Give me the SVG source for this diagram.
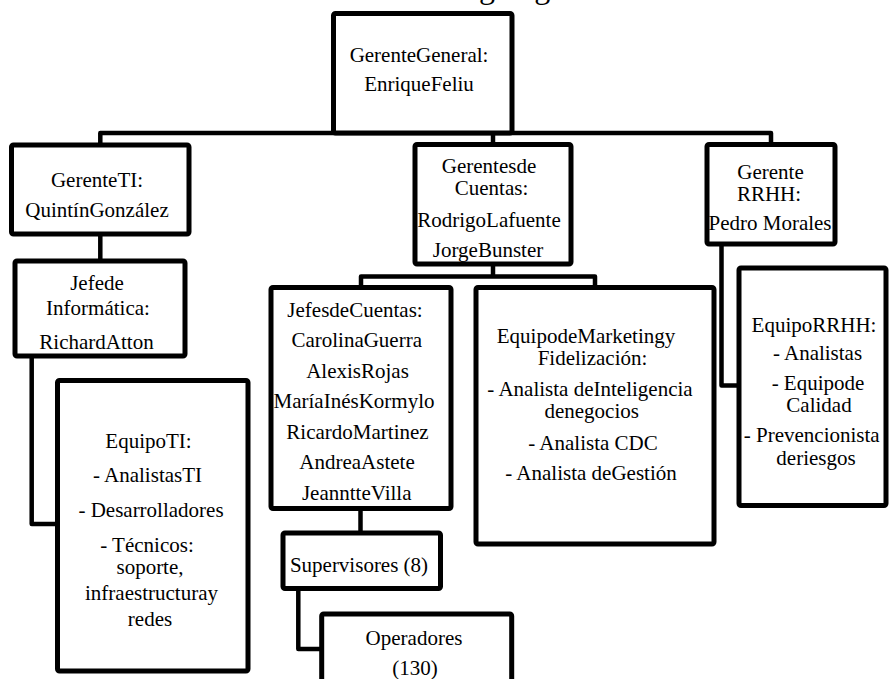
<svg xmlns="http://www.w3.org/2000/svg" width="891" height="679" viewBox="0 0 891 679">
  <style>
    .box { fill: #fff; stroke: #000; stroke-width: 5; stroke-linejoin: round; }
    .wire { fill: none; stroke: #000; stroke-width: 4.5; stroke-linejoin: round; }
    text { font-family: "Liberation Serif", "Times New Roman", serif; font-size: 21px; text-anchor: middle; fill: #000; }
    .title { font-size: 32px; }
  </style>
  <rect width="891" height="679" fill="#fff"/>

  <text class="title" x="530" y="-2">Organigrama</text>

  <!-- connectors: the top box sits directly on the main bus -->
  <g id="connectors">
    <path class="wire" d="M100.3,145 V133 H771 V144.5"/>
    <path class="wire" d="M493,133 V144.5"/>
    <path class="wire" d="M100.3,234 V261"/>
    <path class="wire" d="M31.7,356 V524 H57.5"/>
    <path class="wire" d="M493,264 V276.5"/>
    <path class="wire" d="M361,287.5 V276.5 H595 V287.5"/>
    <path class="wire" d="M360.5,508.5 V533"/>
    <path class="wire" d="M298.3,588.5 V649 H321.7"/>
    <path class="wire" d="M721.5,244 V385.5 H739"/>
  </g>

  <g id="gerente-general">
    <rect class="box" x="333.5" y="13.5" width="178.5" height="119.5" rx="2"/>
    <text x="419" y="61.7">GerenteGeneral:</text>
    <text x="419" y="90.7">EnriqueFeliu</text>
  </g>

  <g id="gerente-ti">
    <rect class="box" x="11.5" y="145" width="177.5" height="89" rx="2"/>
    <text x="97" y="186.7">GerenteTI:</text>
    <text x="97" y="216.7">QuintínGonzález</text>
  </g>

  <g id="jefe-informatica">
    <rect class="box" x="15" y="261" width="170" height="95" rx="2"/>
    <text x="97" y="290">Jefede</text>
    <text x="98" y="315">Informática:</text>
    <text x="96.5" y="349">RichardAtton</text>
  </g>

  <g id="equipo-ti">
    <rect class="box" x="57.5" y="380.5" width="190.5" height="290.5" rx="2"/>
    <text x="148.5" y="448">EquipoTI:</text>
    <text x="147.5" y="481.7">- AnalistasTI</text>
    <text x="151" y="516.7">- Desarrolladores</text>
    <text><tspan x="147" y="551.7">- Técnicos:</tspan><tspan x="150" y="574">soporte,</tspan><tspan x="151.5" y="600">infraestructuray</tspan><tspan x="150" y="626">redes</tspan></text>
  </g>

  <g id="gerentes-cuentas">
    <rect class="box" x="415" y="144.5" width="156" height="119.5" rx="2"/>
    <text><tspan x="489" y="172.5">Gerentesde</tspan><tspan x="491.5" y="195">Cuentas:</tspan></text>
    <text x="489" y="226.7">RodrigoLafuente</text>
    <text x="488" y="256.7">JorgeBunster</text>
  </g>

  <g id="gerente-rrhh">
    <rect class="box" x="707" y="144.5" width="128" height="99.5" rx="2"/>
    <text><tspan x="770.5" y="179">Gerente</tspan><tspan x="769" y="201">RRHH:</tspan></text>
    <text x="770" y="230">Pedro Morales</text>
  </g>

  <g id="jefes-cuentas">
    <rect class="box" x="271" y="287.5" width="180" height="221" rx="2"/>
    <text x="355" y="316.5">JefesdeCuentas:</text>
    <text x="356.7" y="347">CarolinaGuerra</text>
    <text x="357.5" y="377.5">AlexisRojas</text>
    <text x="354" y="408">MaríaInésKormylo</text>
    <text x="357.5" y="438.5">RicardoMartinez</text>
    <text x="357" y="469">AndreaAstete</text>
    <text x="356.7" y="499.5">JeanntteVilla</text>
  </g>

  <g id="equipo-marketing">
    <rect class="box" x="476" y="287.5" width="238" height="256.5" rx="2"/>
    <text><tspan x="586" y="343">EquipodeMarketingy</tspan><tspan x="592.5" y="365">Fidelización:</tspan></text>
    <text><tspan x="590" y="395.5">- Analista deInteligencia</tspan><tspan x="591.7" y="418">denegocios</tspan></text>
    <text x="593" y="450">- Analista CDC</text>
    <text x="591" y="480">- Analista deGestión</text>
  </g>

  <g id="equipo-rrhh">
    <rect class="box" x="739" y="268" width="147" height="237.5" rx="2"/>
    <text x="814" y="331.7">EquipoRRHH:</text>
    <text x="817.5" y="360">- Analistas</text>
    <text><tspan x="818" y="390">- Equipode</tspan><tspan x="819" y="411.7">Calidad</tspan></text>
    <text><tspan x="811.7" y="442">- Prevencionista</tspan><tspan x="816" y="464.5">deriesgos</tspan></text>
  </g>

  <g id="supervisores">
    <rect class="box" x="283" y="533" width="157.5" height="55.5" rx="2"/>
    <text x="359" y="571.7">Supervisores (8)</text>
  </g>

  <g id="operadores">
    <rect class="box" x="321.7" y="614" width="190" height="90" rx="2"/>
    <text x="414" y="645">Operadores</text>
    <text x="415" y="675">(130)</text>
  </g>
</svg>
